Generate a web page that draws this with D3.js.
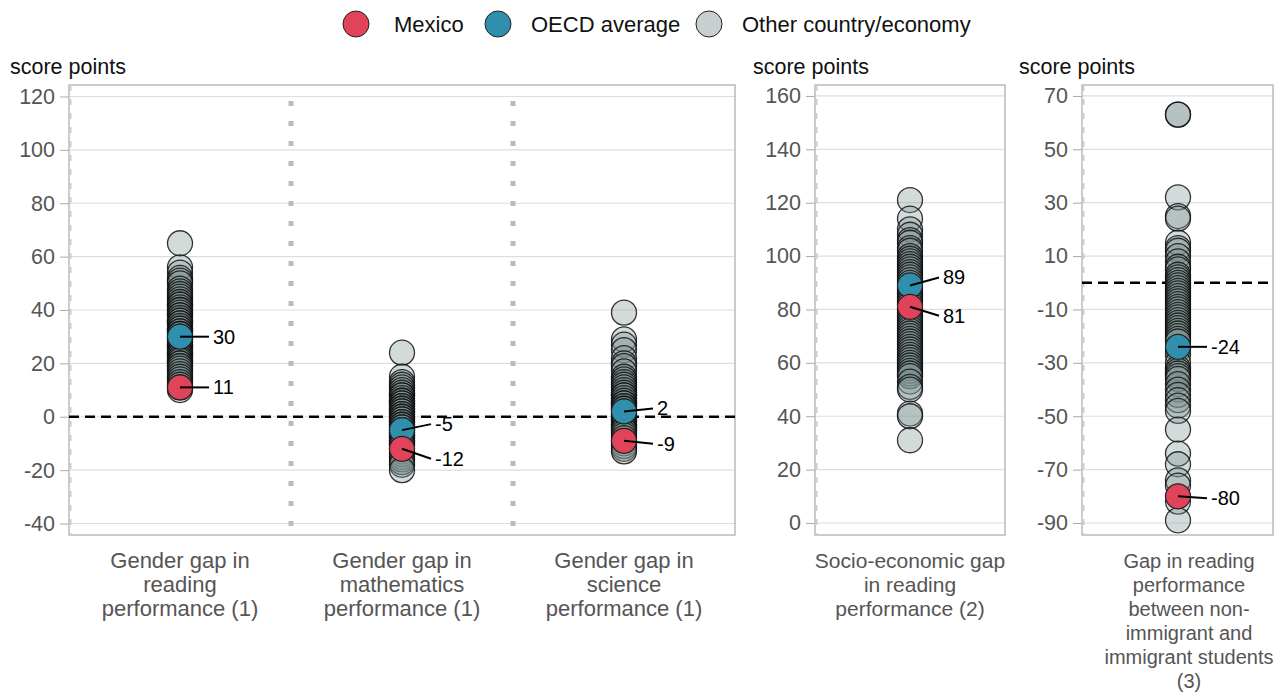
<!DOCTYPE html>
<html>
<head>
<meta charset="utf-8">
<script src="https://cdn.jsdelivr.net/npm/d3@7"></script>
<style>
  body { margin: 0; background: #fff; }
  svg text { font-family: "Liberation Sans", Arial, sans-serif; }
</style>
</head>
<body>
<div id="chart"></div>
<script>
// legend / categories
var legendItems = ["Mexico", "OECD average", "Other country/economy"];
var genderCategories = ["reading", "math", "science"];
var genderLabels = [
  ["Gender gap in", "reading", "performance (1)"],
  ["Gender gap in", "mathematics", "performance (1)"],
  ["Gender gap in", "science", "performance (1)"]
];
var socioLabel = ["Socio-economic gap", "in reading", "performance (2)"];
var immigrantLabel = ["Gap in reading", "performance", "between non-", "immigrant and", "immigrant students", "(3)"];

// tick values
var ticksGender = [-40, -20, 0, 20, 40, 60, 80, 100, 120];
var ticksSocio = [0, 20, 40, 60, 80, 100, 120, 140, 160];
var ticksImmigrant = [-90, -70, -50, -30, -10, 10, 30, 50, 70];

// other countries / economies
var readingGap = [65, 56, 54, 52, 51, 50, 48, 47, 46, 45, 44, 43, 42, 42, 41, 40, 40, 39, 38, 38, 37, 36, 36, 35, 35, 34, 33, 33, 32, 32, 31, 31, 30, 29, 29, 28, 28, 27, 27, 26, 26, 25, 25, 24, 24, 23, 23, 22, 22, 21, 21, 20, 20, 19, 19, 18, 17, 16, 15, 14, 13, 12, 11, 10];
var mathGap = [24, 15, 13, 12, 11, 10, 9, 8, 8, 7, 6, 6, 5, 5, 4, 4, 3, 3, 2, 2, 1, 1, 0, 0, -1, -1, -2, -2, -3, -3, -4, -4, -5, -5, -6, -6, -7, -7, -8, -8, -9, -9, -10, -10, -11, -12, -13, -14, -15, -16, -17, -18, -20];
var scienceGap = [39, 29, 27, 25, 22, 20, 19, 17, 15, 14, 13, 12, 11, 10, 9, 8, 8, 7, 6, 5, 5, 4, 4, 3, 3, 2, 1, 1, 0, 0, -1, -1, -2, -2, -3, -3, -4, -4, -5, -5, -6, -7, -8, -9, -10, -11, -12, -13];
var socioGap = [121, 114, 110, 108, 106, 105, 103, 102, 100, 99, 98, 97, 96, 95, 94, 93, 92, 91, 90, 88, 87, 86, 85, 84, 83, 82, 80, 79, 78, 77, 76, 75, 74, 73, 72, 71, 70, 69, 68, 67, 66, 65, 64, 63, 62, 61, 60, 59, 58, 57, 56, 55, 53, 51, 50, 41, 40, 31];
var immigrantGap = [63, 63, 32, 25, 24, 15, 13, 12, 10, 8, 6, 5, 3, 2, 1, 0, -1, -2, -3, -4, -5, -6, -7, -8, -9, -10, -11, -12, -13, -14, -15, -16, -17, -18, -19, -20, -21, -22, -25, -27, -30, -32, -33, -34, -35, -36, -38, -40, -42, -44, -46, -48, -55, -64, -68, -74, -76, -82, -89];

// highlighted values [OECD, Mexico]
var genderOECD = [30, -5, 2];
var genderMexico = [11, -12, -9];
var socioOECD = 89, socioMexico = 81;
var immigrantOECD = -24, immigrantMexico = -80;

var colMexico = "#e0435a";
var colOECD = "#2f8fad";
var colOther = "#c9cfd1";

var width = 1274, height = 693;
var plotTop = 85, plotBottom = 535;
var r = 12.5;

const svg = d3.select("#chart").append("svg")
  .attr("width", width).attr("height", height)
  .attr("viewBox", [0, 0, width, height]);

// legend
var legendX = [356, 498, 709];
var legendTextX = [394, 531, 742];
var legendCols = [colMexico, colOECD, colOther];
legendItems.forEach(function(name, i) {
  svg.append("circle").attr("cx", legendX[i]).attr("cy", 24).attr("r", 13)
    .attr("fill", legendCols[i]).attr("stroke", "#222").attr("stroke-width", 1);
  svg.append("text").attr("x", legendTextX[i]).attr("y", 32)
    .attr("font-size", 22).attr("fill", "#111").text(name);
});

function panel(x0, x1, domain, ticks, zeroLine, titleX) {
  var y = d3.scaleLinear().domain(domain).range([plotBottom, plotTop]);
  var g = svg.append("g");
  g.selectAll("line.grid").data(ticks).join("line")
    .attr("x1", x0).attr("x2", x1)
    .attr("y1", d => y(d)).attr("y2", d => y(d))
    .attr("stroke", "#dedede").attr("stroke-width", 1.2);
  var axis = d3.axisLeft(y).tickValues(ticks).tickSize(9).tickPadding(5)
    .tickFormat(d => String(d));
  var ax = g.append("g").attr("transform", "translate(" + x0 + ",0)").call(axis);
  ax.select(".domain").remove();
  ax.selectAll(".tick line").attr("stroke", "#aaa");
  ax.selectAll(".tick text").attr("font-size", 21.5).attr("fill", "#555")
    .attr("font-family", "Liberation Sans, Arial, sans-serif");
  g.append("rect").attr("x", x0).attr("y", plotTop).attr("width", x1 - x0).attr("height", plotBottom - plotTop)
    .attr("fill", "none").attr("stroke", "#bbb").attr("stroke-width", 1.5);
  g.append("line").attr("x1", x0 + 1.5).attr("x2", x0 + 1.5).attr("y1", plotTop).attr("y2", plotBottom)
    .attr("stroke", "#ccc").attr("stroke-width", 2).attr("stroke-dasharray", "6,8");
  if (zeroLine) {
    g.append("line").attr("x1", x0).attr("x2", x1).attr("y1", y(0)).attr("y2", y(0))
      .attr("stroke", "#000").attr("stroke-width", 2.4).attr("stroke-dasharray", "10,6");
  }
  svg.append("text").attr("x", titleX).attr("y", 74).attr("font-size", 21.5)
    .attr("fill", "#111").text("score points");
  return y;
}

function dots(cx, y, values, oecd, mex, labelDy) {
  var g = svg.append("g");
  g.selectAll("circle.o").data(values).join("circle")
    .attr("cx", cx).attr("cy", d => y(d)).attr("r", r)
    .attr("fill", "#7f9294").attr("fill-opacity", 0.34)
    .attr("stroke", "#111").attr("stroke-opacity", 0.85).attr("stroke-width", 1.3);
  var hl = [[oecd, colOECD, labelDy[0]], [mex, colMexico, labelDy[1]]];
  hl.forEach(function(h) {
    g.append("circle").attr("cx", cx).attr("cy", y(h[0])).attr("r", r)
      .attr("fill", h[1]).attr("stroke", "#222").attr("stroke-width", 1.2);
  });
  hl.forEach(function(h) {
    var yy = y(h[0]) + h[2];
    g.append("line").attr("x1", cx).attr("y1", y(h[0])).attr("x2", cx + 29).attr("y2", yy)
      .attr("stroke", "#000").attr("stroke-width", 2);
    g.append("text").attr("x", cx + 33).attr("y", yy + 7).attr("font-size", 20)
      .attr("fill", "#000").text(h[0]);
  });
}

function catLabel(cx, lines, size) {
  var t = svg.append("text").attr("text-anchor", "middle").attr("font-size", size).attr("fill", "#555");
  lines.forEach(function(l, i) {
    t.append("tspan").attr("x", cx).attr("y", 568 + i * 24).text(l);
  });
}

// panel 1: gender gaps
var p1x0 = 69, p1x1 = 735;
var yG = panel(p1x0, p1x1, [-44.3, 124.3], ticksGender, true, 10);
var xG = d3.scaleBand().domain(genderCategories).range([p1x0, p1x1]);
[1, 2].forEach(function(i) {
  var sx = xG(genderCategories[i]);
  svg.append("line").attr("x1", sx).attr("x2", sx).attr("y1", 101).attr("y2", plotBottom)
    .attr("stroke", "#bbb").attr("stroke-width", 5).attr("stroke-dasharray", "5,15");
});
var gSeries = [readingGap, mathGap, scienceGap];
var gDy = [[0, 0], [-6, 10], [-3, 3]];
genderCategories.forEach(function(c, i) {
  var cx = xG(c) + xG.bandwidth() / 2;
  dots(cx, yG, gSeries[i], genderOECD[i], genderMexico[i], gDy[i]);
  catLabel(cx, genderLabels[i], 22);
});

// panel 2: socio-economic gap
var p2x0 = 815, p2x1 = 1005;
var yS = panel(p2x0, p2x1, [-4.5, 164.1], ticksSocio, false, 753);
var cS = (p2x0 + p2x1) / 2;
dots(cS, yS, socioGap, socioOECD, socioMexico, [-8, 9]);
catLabel(cS, socioLabel, 21);

// panel 3: immigrant gap
var p3x0 = 1082, p3x1 = 1273;
var yI = panel(p3x0, p3x1, [-94.5, 74.1], ticksImmigrant, true, 1019);
var cI = 1178;
dots(cI, yI, immigrantGap, immigrantOECD, immigrantMexico, [0, 2]);
catLabel(1189, immigrantLabel, 20);
</script>
</body>
</html>
